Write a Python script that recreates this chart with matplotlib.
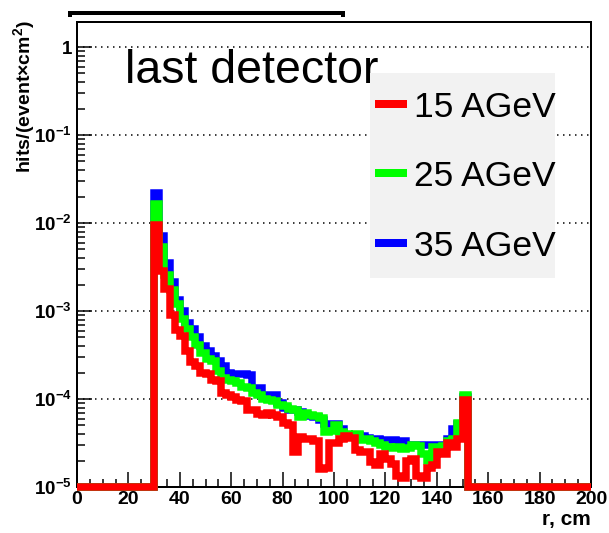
import numpy as np
import matplotlib
matplotlib.use('Agg')
import matplotlib.pyplot as plt
from matplotlib.ticker import FixedLocator, MultipleLocator, LogLocator, NullFormatter
from matplotlib.lines import Line2D
from matplotlib.patches import Rectangle

plt.rcParams['font.family'] = ['Liberation Sans', 'DejaVu Sans']
plt.rcParams['mathtext.fontset'] = 'custom'
plt.rcParams['mathtext.rm'] = 'Liberation Sans:bold'
plt.rcParams['mathtext.it'] = 'Liberation Sans:bold'
plt.rcParams['mathtext.bf'] = 'Liberation Sans:bold'

# ---------------- data (histograms, 2 cm bins, 0..200 cm) ----------------
bin_width = 2
r_min, r_max = 0, 200
first_filled = 30          # first non-empty bin (left edge, cm)
empty_level = 1e-5         # empty bins drawn at the axis minimum

labels = ['15 AGeV', '25 AGeV', '35 AGeV']
colors = ['#ff0000', '#00ff00', '#0000ff']

# log10(hits/(event x cm^2)) for bins starting at r = 30, 32, ..., 150
red_log10 = [
    -2.02, -2.55, -2.75, -3.05, -3.22, -3.28, -3.45, -3.58, -3.62, -3.70,
    -3.72, -3.78, -3.80, -3.93, -3.95, -3.98, -4.01, -4.02, -4.12, -4.13,
    -4.17, -4.18, -4.16, -4.18, -4.20, -4.27, -4.30, -4.60, -4.43, -4.45,
    -4.46, -4.48, -4.80, -4.78, -4.50, -4.50, -4.46, -4.42, -4.44, -4.58,
    -4.60, -4.60, -4.72, -4.75, -4.62, -4.68, -4.74, -4.88, -4.90, -4.70,
    -4.68, -4.88, -4.90, -4.78, -4.75, -4.60, -4.62, -4.50, -4.55, -4.45,
    -4.01]
green_log10 = [
    -1.78, -2.27, -2.59, -2.76, -2.92, -3.09, -3.20, -3.30, -3.39, -3.48,
    -3.54, -3.57, -3.68, -3.76, -3.78, -3.80, -3.82, -3.86, -3.88, -3.93,
    -3.95, -4.00, -4.01, -4.02, -4.07, -4.08, -4.11, -4.12, -4.20, -4.16,
    -4.18, -4.19, -4.22, -4.38, -4.36, -4.30, -4.38, -4.40, -4.42, -4.40,
    -4.47, -4.46, -4.48, -4.50, -4.52, -4.54, -4.56, -4.55, -4.57, -4.56,
    -4.52, -4.53, -4.62, -4.70, -4.55, -4.54, -4.53, -4.48, -4.46, -4.27,
    -3.96]
blue_log10 = [
    -1.66, -2.15, -2.46, -2.665, -2.87, -3.00, -3.14, -3.20, -3.29, -3.40,
    -3.46, -3.51, -3.57, -3.63, -3.71, -3.72, -3.72, -3.72, -3.73, -3.87,
    -3.87, -3.95, -3.95, -3.96, -4.05, -4.10, -4.12, -4.13, -4.15, -4.18,
    -4.19, -4.21, -4.24, -4.28, -4.28, -4.28, -4.34, -4.41, -4.41, -4.41,
    -4.42, -4.44, -4.45, -4.45, -4.47, -4.47, -4.47, -4.48, -4.48, -4.52,
    -4.52, -4.52, -4.52, -4.52, -4.52, -4.52, -4.52, -4.45, -4.34, -4.28,
    -3.98]

x_ticks = [0, 20, 40, 60, 80, 100, 120, 140, 160, 180, 200]
y_ticks = [1e-5, 1e-4, 1e-3, 1e-2, 1e-1, 1]
y_tick_labels = [r'$10^{-5}$', r'$10^{-4}$', r'$10^{-3}$', r'$10^{-2}$', r'$10^{-1}$', '1']

# ---------------- figure ----------------
W, H = 609, 533
fig = plt.figure(figsize=(W / 100, H / 100), dpi=100)
PT = 0.72  # points per pixel


def fx(px):
    return px / W


def fy(py):
    return 1 - py / H


x0, x1, ytop, ybot = 77, 591, 22, 487
ax = fig.add_axes([fx(x0), fy(ybot), fx(x1) - fx(x0), fy(ytop) - fy(ybot)])
ax.set_yscale('log')
ax.set_xlim(r_min, r_max)
ax.set_ylim(empty_level, 10 ** ((ybot - ytop) / 88.0 - 5))

edges = np.arange(r_min, r_max + bin_width, bin_width)
n_bins = len(edges) - 1
n_low = (first_filled - r_min) // bin_width


def full_hist(logvals):
    vals = np.full(n_bins, empty_level)
    vals[n_low:n_low + len(logvals)] = 10.0 ** np.asarray(logvals)
    return vals


series = [red_log10, green_log10, blue_log10]
# draw blue first, then green, red on top
for lv, col, z in zip(series[::-1], colors[::-1], [3.0, 3.1, 3.2]):
    sp = ax.stairs(full_hist(lv), edges, baseline=None, color=col,
                   linewidth=7.5 * PT, zorder=z, clip_on=False)
    sp.set_joinstyle('miter')
    sp.set_capstyle('butt')

# dotted grid at decades
for v in y_ticks[1:]:
    ax.axhline(v, color='black', lw=1.5 * PT, ls=(0, (1, 3)), zorder=2)

# axes styling
for s in ax.spines.values():
    s.set_linewidth(2 * PT)
    s.set_zorder(2.5)
ax.xaxis.set_major_locator(FixedLocator(x_ticks))
ax.xaxis.set_minor_locator(MultipleLocator(5))
ax.set_xticklabels([str(t) for t in x_ticks], fontsize=14, fontweight='bold')
ax.yaxis.set_major_locator(FixedLocator(y_ticks))
ax.yaxis.set_minor_locator(LogLocator(base=10, subs=np.arange(2, 10)))
ax.yaxis.set_minor_formatter(NullFormatter())
ax.set_yticklabels(y_tick_labels, fontsize=13.5, fontweight='bold')
ax.tick_params(axis='both', which='both', direction='in', top=False, right=False,
               width=1.5 * PT, color='black')
ax.tick_params(axis='both', which='major', length=15 * PT)
ax.tick_params(axis='both', which='minor', length=8 * PT)
ax.tick_params(axis='x', which='major', pad=4 * PT)
ax.tick_params(axis='y', which='major', pad=5 * PT)

# axis titles
fig.text(fx(24.5), fy(20), 'hits/(event\u00d7cm$^{2}$)', rotation=90, fontsize=14,
         fontweight='bold', ha='center', va='top')
fig.text(fx(591), fy(525), 'r, cm', fontsize=15, fontweight='bold',
         ha='right', va='baseline')

# panel title
fig.text(fx(125), fy(83), 'last detector', fontsize=33.5, ha='left', va='baseline')

# legend (gray box, manual entries)
fig.add_artist(Rectangle((fx(370), fy(278)), fx(555) - fx(370), fy(72.7) - fy(278),
                         transform=fig.transFigure, facecolor='#f2f2f2',
                         edgecolor='none', zorder=4))
entry_y = [104, 173, 243]
for lab, col, yy in zip(labels, colors, entry_y):
    fig.add_artist(Line2D([fx(375), fx(407)], [fy(yy), fy(yy)], color=col,
                          lw=8 * PT, solid_capstyle='butt',
                          transform=fig.transFigure, zorder=5))
    fig.text(fx(414), fy(yy), lab, fontsize=25.5, ha='left', va='center_baseline',
             zorder=5)

# black bar at top of the picture
fig.add_artist(Line2D([fx(70), fx(70), fx(343), fx(343)],
                      [fy(14.5), fy(12.5), fy(12.5), fy(14.5)], color='black',
                      lw=4 * PT, solid_joinstyle='miter',
                      transform=fig.transFigure, zorder=5))

fig.savefig('out.png', dpi=100)
